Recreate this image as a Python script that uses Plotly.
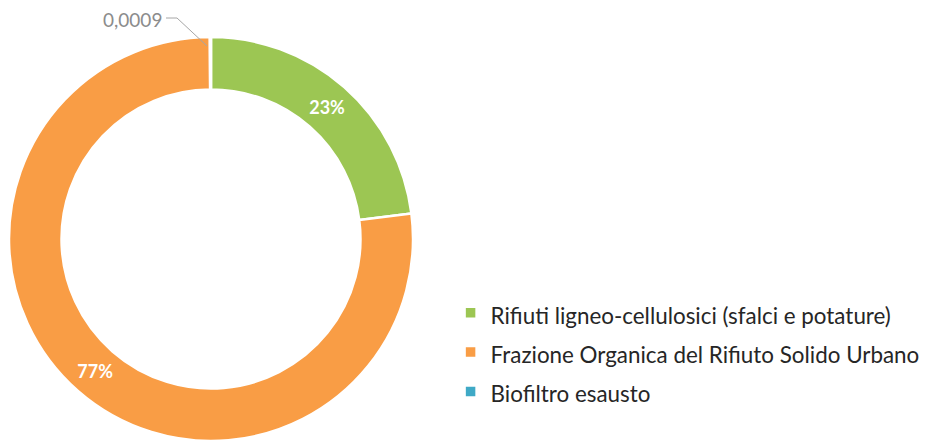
import plotly.graph_objects as go

labels = ["Rifiuti ligneo-cellulosici (sfalci e potature)",
          "Frazione Organica del Rifiuto Solido Urbano",
          "Biofiltro esausto"]
values = [0.23, 0.77, 0.0009]
colors = ["#9CC653", "#F99D45", "#3FA9C6"]
small_label = "0,0009"

W, H = 930, 446
cx, cy, R = 211, 239, 202

legend_labels = ["<span style='font-size:22.4px'>%s</span>" % l for l in labels]

fig = go.Figure()
fig.add_trace(go.Pie(
    labels=legend_labels,
    values=values,
    hole=0.74,
    sort=False,
    direction="clockwise",
    rotation=0,
    marker=dict(colors=colors, line=dict(color="white", width=2.5)),
    texttemplate=["<b>%{percent:.0%}</b>", "<b>%{percent:.0%}</b>", ""],
    textposition="inside",
    insidetextorientation="horizontal",
    insidetextfont=dict(color="white", size=18, family="Lato"),
    hoverinfo="label+value",
    domain=dict(x=[(cx - R) / W, (cx + R) / W],
                y=[(H - cy - R) / H, (H - cy + R) / H]),
))

# leader label for the tiny slice
fig.add_annotation(x=164 / W, y=(H - 19) / H, xref="paper", yref="paper",
                   text=small_label, showarrow=False, xanchor="right", yanchor="middle",
                   font=dict(size=19, color="#8C8C8C", family="Lato"))
fig.add_shape(type="path", xref="paper", yref="paper",
              path="M %f %f L %f %f L %f %f" % (166 / W, (H - 18) / H, 177 / W, (H - 18) / H,
                                               207 / W, (H - 46) / H),
              line=dict(color="#A6A6A6", width=1))

fig.update_layout(
    width=W, height=H,
    margin=dict(l=0, r=0, t=0, b=0),
    paper_bgcolor="white", plot_bgcolor="white",
    font=dict(family="Lato", color="#262626"),
    showlegend=True,
    legend=dict(x=0.4845, y=(H - 352.5) / H, xanchor="left", yanchor="middle",
                font=dict(size=28, color="#262626", family="Lato"),
                bgcolor="rgba(0,0,0,0)"),
)

fig.write_html("out.html", post_script="document.body.style.margin='0';",
               config={"displayModeBar": False})
